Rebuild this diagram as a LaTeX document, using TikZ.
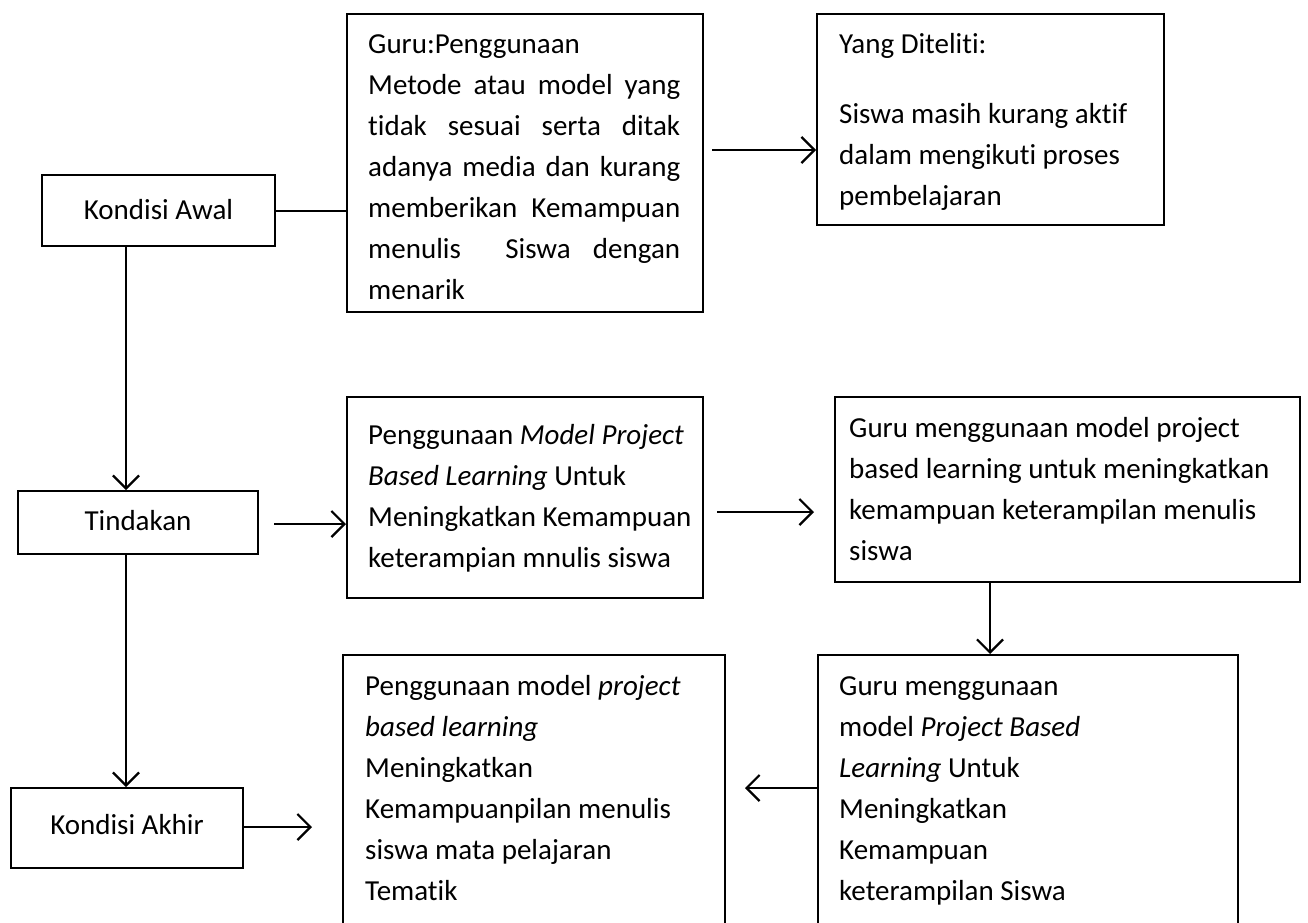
\documentclass[tikz,border=0pt]{standalone}
\usepackage{fontspec}
\setmainfont{Carlito}[Ligatures=NoCommon]
\usetikzlibrary{arrows.meta,calc}
\newcommand{\jl}[1]{\makebox[312pt][s]{#1}}
\newcommand{\fl}{\rule{0pt}{24pt}}
\begin{document}
\begin{tikzpicture}[x=1pt,y=-1pt,
  box/.style={draw=black,line width=2pt,inner sep=0pt,rectangle},
  txt/.style={anchor=north west,inner sep=0pt,align=left,font=\fontsize{29}{41}\selectfont},
  ctxt/.style={anchor=base,inner sep=0pt,font=\fontsize{29}{41}\selectfont},
  arr/.style={line width=2pt,-{Straight Barb[length=13pt,width=26pt,line width=2.2pt]}},
  ln/.style={line width=2pt}]
\clip (0,0) rectangle (1308,922);
\fill[white] (0,0) rectangle (1308,922);
% boxes
\node[box,minimum width=233pt,minimum height=71pt] (KA) at (158.5,210.5) {};
\node[box,minimum width=356pt,minimum height=298pt] (G) at (525,163) {};
\node[box,minimum width=347pt,minimum height=211pt] (Y) at (990.5,119.5) {};
\node[box,minimum width=240pt,minimum height=63pt] (T) at (138,522.5) {};
\node[box,minimum width=356pt,minimum height=201pt] (B3) at (525,497.5) {};
\node[box,minimum width=465pt,minimum height=185pt] (B4) at (1067.5,489.5) {};
\node[box,minimum width=420pt,minimum height=280pt] (B5) at (1028,795) {};
\node[box,minimum width=382pt,minimum height=280pt] (B6) at (534,795) {};
\node[box,minimum width=232pt,minimum height=80pt] (KK) at (127,828) {};
% texts
\node[ctxt] (tKA) at (158.5,219) {Kondisi Awal};
\node[ctxt] (tT) at (138,530) {Tindakan};
\node[ctxt] (tKK) at (127,834) {Kondisi Akhir};
\node[txt] (tG) at (368,29) {\fl Guru:Penggunaan\\
  \jl{Metode atau model yang}\\
  \jl{tidak sesuai serta ditak}\\
  \jl{adanya media dan kurang}\\
  \jl{memberikan Kemampuan}\\
  \jl{menulis\ \ Siswa dengan}\\
  menarik};
\node[txt] (tY) at (839,29) {\fl Yang Diteliti:\\[29pt]
  Siswa masih kurang aktif\\
  dalam mengikuti proses\\
  pembelajaran};
\node[txt] (tB3) at (368,420) {\fl Penggunaan \textit{Model Project}\\
  \textit{Based Learning} Untuk\\
  Meningkatkan Kemampuan\\
  keterampian mnulis siswa};
\node[txt] (tB4) at (849,413) {\fl Guru menggunaan model project\\
  based learning untuk meningkatkan\\
  kemampuan keterampilan menulis\\
  siswa};
\node[txt] (tB5) at (839,671) {\fl Guru menggunaan\\
  model \textit{Project Based}\\
  \textit{Learning} Untuk\\
  Meningkatkan\\
  Kemampuan\\
  keterampilan Siswa};
\node[txt] (tB6) at (365,671) {\fl Penggunaan model \textit{project}\\
  \textit{based learning}\\
  Meningkatkan\\
  Kemampuanpilan menulis\\
  siswa mata pelajaran\\
  Tematik};
% connectors
\coordinate (xl) at (126,0);
\coordinate (gy) at (712,150);
\coordinate (ty) at (274,524);
\coordinate (by) at (717,512);
\coordinate (bx) at (990,0);
\coordinate (b5y) at (0,788);
\coordinate (ky) at (0,827);
\draw[ln] (KA.east) -- (KA.east -| G.west);
\draw[arr] (gy) -- (gy -| Y.west);
\draw[arr] (KA.south -| xl) -- (T.north -| xl);
\draw[arr] (T.south -| xl) -- (KK.north -| xl);
\draw[arr] (ty) -- (ty -| B3.west);
\draw[arr] (by) -- ([xshift=-20pt]by -| B4.west);
\draw[arr] (B4.south -| bx) -- (B5.north -| bx);
\draw[arr] (B5.west |- b5y) -- ([xshift=19pt]B6.east |- b5y);
\draw[arr] (KK.east |- ky) -- ([xshift=-30pt]B6.west |- ky);
\end{tikzpicture}
\end{document}
